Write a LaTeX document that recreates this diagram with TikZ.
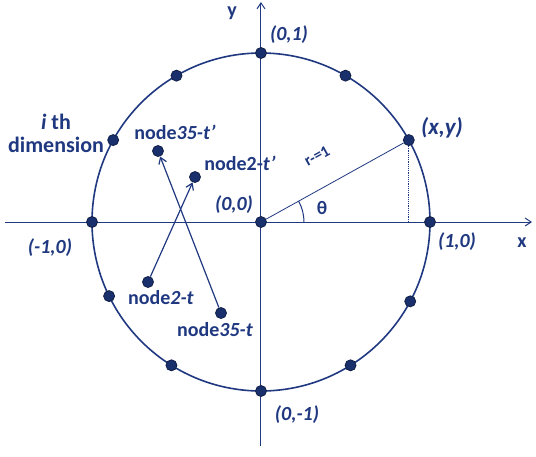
\documentclass[tikz,border=0pt]{standalone}
\usepackage{fontspec}
\setmainfont{Carlito}
\usetikzlibrary{arrows.meta}
\definecolor{navy}{RGB}{31,56,128}
\begin{document}
\begin{tikzpicture}[x=1pt,y=1pt,navy,
	dot/.style={circle,fill=navy!85!black,draw=navy!55!black,line width=0.8pt,inner sep=0pt,minimum size=11pt},
	lbl/.style={font=\fontsize{20}{23}\selectfont\bfseries,text=navy,inner sep=1pt},
	tip/.style={-{Straight Barb[length=6pt,width=8pt]}}]
		\useasboundingbox (-261,-234) rectangle (275,222);
		\coordinate (O) at (0,0);
		\draw [line width=1.6pt] (O) circle (169);
		\draw [line width=1pt,tip] (-256,0) -- (271,0);
		\draw [line width=1pt,tip] (0,-224) -- (0,220);
		\node[lbl] (xlab) at (261,-21) {x};
		\node[lbl] (ylab) at (-29,209) {y};
		% points on the circle
		\foreach \a/\n in {0/p0,29/xy,60/p60,90/p90,120/p120,151/pdim,180/p180,206/p206,238/p238,270/p270,302/p302,332/p332}
			\node[dot] (\n) at (\a:169) {};
		\node[dot] (c) at (O) {};
		\draw [line width=0.8pt] (c) -- (xy);
		\draw [line width=1.2pt,densely dotted] (xy) -- (xy |- O);
		\draw [line width=1pt] (43,0) arc (0:29:43);
		\node[lbl,font=\fontsize{19}{20}\selectfont\bfseries] (theta) at (61,14) {θ};
		\node[lbl,rotate=29,font=\fontsize{16}{18}\selectfont\bfseries] (rlab) at (56,66) {r-=1};
		% coordinate labels
		\node[lbl] at (28,187) {\textit{(0,1)}};
		\node[lbl,font=\fontsize{23}{26}\selectfont\bfseries] at (181,94) {\textit{(x,y)}};
		\node[lbl] at (196,-20) {\textit{(1,0)}};
		\node[lbl] at (-211,-26) {\textit{(-1,0)}};
		\node[lbl] at (36,-193) {\textit{(0,-1)}};
		\node[lbl] at (-27,17) {\textit{(0,0)}};
		\node[lbl,align=center,font=\fontsize{22}{23}\selectfont\bfseries] (dim) at (-205,89) {\textit{i} th\\dimension};
		% nodes and their moves
		\node[dot] (n35p) at (-103,71) {};
		\node[dot] (n2p) at (-66,45) {};
		\node[dot] (n2) at (-113,-60) {};
		\node[dot] (n35) at (-40,-91) {};
		\node[lbl] at (-86,90) {node\textit{35-t'}};
		\node[lbl] at (-21,59) {node2-\textit{t'}};
		\node[lbl] at (-100,-76) {node\textit{2-t}};
		\node[lbl] at (-46,-108) {node\textit{35-t}};
		\draw [line width=1.2pt,tip] (n2) -- (n2p);
		\draw [line width=1.2pt,tip] (n35) -- (n35p);
\end{tikzpicture}
\end{document}
